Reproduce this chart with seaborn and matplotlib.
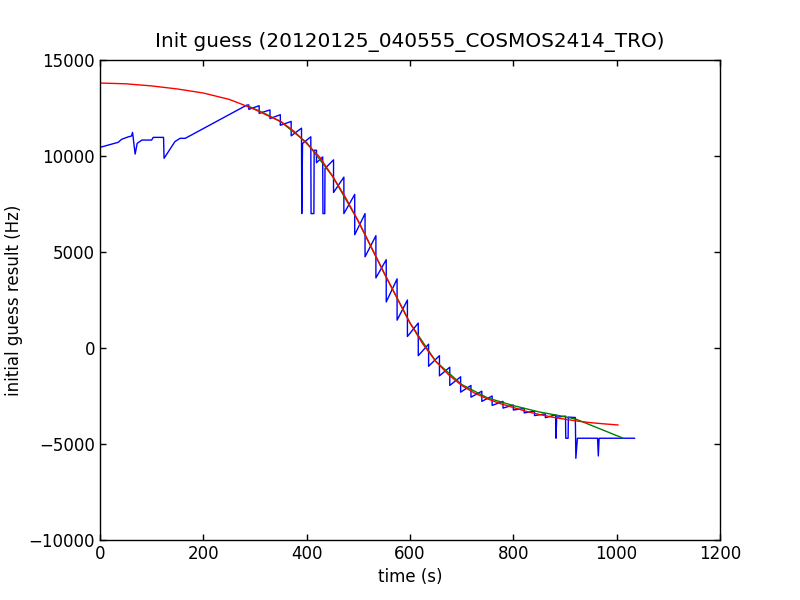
import numpy as np
import pandas as pd
import matplotlib
matplotlib.use("Agg")
import matplotlib.pyplot as plt
import seaborn as sns

title = "Init guess (20120125_040555_COSMOS2414_TRO)"
x_label = "time (s)"
y_label = "initial guess result (Hz)"
x_ticks = [0, 200, 400, 600, 800, 1000, 1200]
y_ticks = [-10000, -5000, 0, 5000, 10000, 15000]

# Blue: raw initial-guess results (drawn in recorded order)
blue_t = [0, 16, 35, 42, 55, 61, 63, 68, 72, 81, 100, 103, 123, 124, 145, 155, 165,
          284,
          288, 288, 308, 308, 329, 329, 349, 349, 370, 370,
          390, 390.5, 392, 408, 408.5, 414, 414.5, 419, 419, 431, 431.5, 435, 435.5,
          452, 452, 472, 472, 493, 493, 513, 513, 534, 534, 554, 554, 575, 575,
          595, 595, 616, 616, 636, 636, 657, 657, 677, 677, 698, 698, 718, 718,
          739, 739, 759, 759, 780, 780, 800, 800, 821, 821, 841, 841, 862, 862,
          882, 882.5, 884, 901, 901.5, 906, 906.5, 920, 921, 924, 963, 964.5, 966, 1035]
blue_y = [10450, 10570, 10710, 10870, 11000, 11040, 11230, 10100, 10660, 10830, 10830, 10970, 10970, 9880, 10750, 10920, 10920,
          12650,
          12660, 12430, 12620, 12220, 12400, 11950, 12150, 11600, 11800, 11050,
          11450, 7000, 10650, 11000, 7000, 7000, 10300, 10300, 9650, 9950, 7000, 7000, 9350,
          9800, 8100, 8900, 7000, 8000, 5900, 7000, 4750, 5850, 3650, 4600, 2400, 3600, 1450,
          2500, 600, 1300, -400, 200, -950, -400, -1450, -1000, -1950, -1500, -2300, -1950, -2560,
          -2250, -2780, -2500, -2990, -2780, -3130, -2970, -3230, -3150, -3380, -3290, -3520, -3430, -3630,
          -3480, -4700, -3600, -3550, -4700, -4700, -3600, -3620, -5745, -4700, -4700, -5625, -4700, -4700]

# Green: intermediate guess
green_t = [285, 320, 350, 400, 450, 500, 550, 600, 650, 700, 750, 800, 850, 900, 922, 1013]
green_y = [12620, 12200, 11780, 10700, 8950, 6600, 3900, 1300, -700, -1900, -2600, -3000, -3330, -3580, -3714, -4703]

# Red: fitted curve
red_t = [0, 50, 100, 150, 200, 250, 275, 300, 325, 350, 375, 400, 425, 450, 475, 500, 525, 550,
         575, 600, 625, 650, 675, 700, 725, 750, 775, 800, 825, 850, 875, 900, 925, 950, 975, 1003]
red_y = [13800, 13760, 13650, 13490, 13280, 12950, 12690, 12420, 12100, 11800, 11300, 10650, 9950, 8950,
         7850, 6600, 5250, 3900, 2600, 1300, 200, -700, -1400, -1950, -2350, -2650, -2900, -3100, -3300,
         -3460, -3600, -3710, -3810, -3890, -3950, -4010]

sns.set_style("white")
plt.rcParams.update({
    "font.family": ["DejaVu Sans"],
    "text.color": "black", "axes.labelcolor": "black",
    "xtick.direction": "in", "ytick.direction": "in",
    "xtick.top": True, "ytick.right": True,
    "xtick.major.size": 4, "ytick.major.size": 4,
    "xtick.bottom": True, "ytick.left": True,
    "axes.edgecolor": "black", "axes.linewidth": 1.0,
    "xtick.color": "black", "ytick.color": "black",
    "xtick.labelcolor": "black", "ytick.labelcolor": "black",
})

fig = plt.figure(figsize=(8, 6), dpi=100)
ax = fig.add_axes([0.125, 0.1, 0.775, 0.8])

blue = pd.DataFrame({"t": blue_t, "y": blue_y})
green = pd.DataFrame({"t": green_t, "y": green_y})
red = pd.DataFrame({"t": red_t, "y": red_y})

sns.lineplot(data=blue, x="t", y="y", sort=False, estimator=None, color="#0000ff", lw=1.0, ax=ax)
sns.lineplot(data=green, x="t", y="y", sort=False, estimator=None, color="#008000", lw=1.0, ax=ax)
sns.lineplot(data=red, x="t", y="y", sort=False, estimator=None, color="#ff0000", lw=1.0, ax=ax)

ax.set_xlim(0, 1200)
ax.set_ylim(-10000, 15000)
ax.set_xticks(x_ticks)
ax.set_yticks(y_ticks)
ax.tick_params(labelsize=12, width=1, length=4, colors="black")
ax.set_xlabel(x_label, fontsize=12, color="black")
ax.set_ylabel(y_label, fontsize=12, color="black")
ax.set_title(title, fontsize=14.4, pad=9, color="black")
for s in ax.spines.values():
    s.set_visible(True)
    s.set_color("black")

fig.savefig("out.png", dpi=100, facecolor="white")
